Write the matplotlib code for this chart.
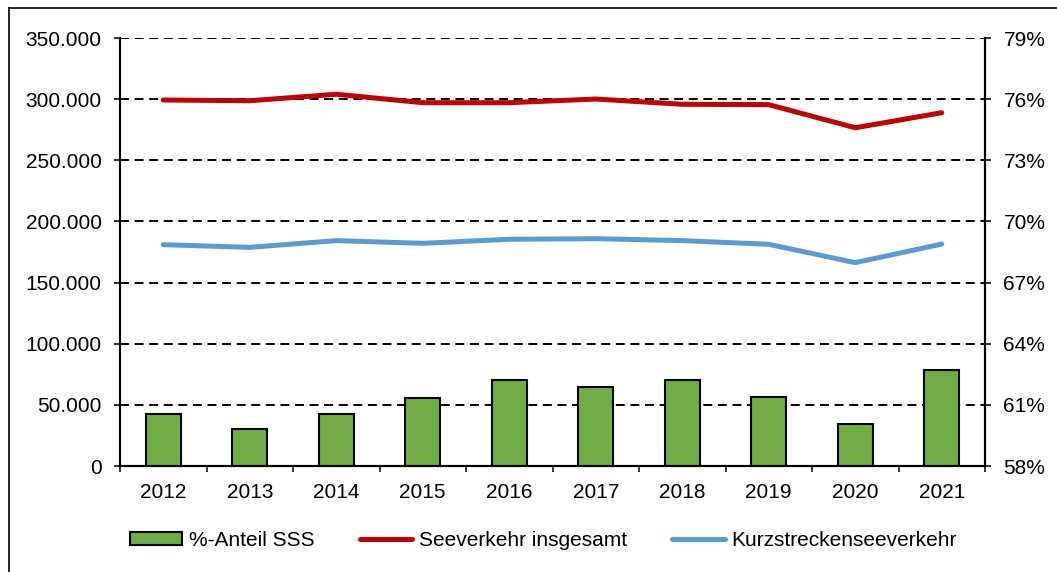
import matplotlib.pyplot as plt
from matplotlib.lines import Line2D
from matplotlib.patches import Patch
from matplotlib.ticker import FuncFormatter, FixedLocator
import numpy as np

plt.rcParams['font.family'] = ['Liberation Sans', 'DejaVu Sans']
plt.rcParams['font.size'] = 15

# data
years = ["2012", "2013", "2014", "2015", "2016", "2017", "2018", "2019", "2020", "2021"]
seeverkehr = [299300, 298700, 304000, 297100, 297100, 300100, 295800, 295500, 276600, 288900]
kurzstrecke = [181000, 178800, 184300, 182100, 185400, 185900, 184300, 181300, 166300, 181500]
anteil_sss = [60.55, 59.83, 60.55, 61.34, 62.2, 61.89, 62.2, 61.4, 60.06, 62.72]

red = "#C00000"
blue = "#5B9BD5"
green = "#70AD47"

fig = plt.figure(figsize=(10.57, 5.72), dpi=100)
ax = fig.add_axes([120 / 1057, 1 - 466 / 572, 865 / 1057, 428 / 572])
ax2 = ax.twinx()

x = np.arange(len(years))

# bars on the right (percent) axis, behind the lines
ax2.bar(x, anteil_sss, width=0.4, bottom=0, color=green, edgecolor="black", linewidth=1.5, zorder=2)
ax2.set_ylim(58, 79)
ax2.set_yticks(np.arange(58, 80, 3))
ax2.yaxis.set_major_formatter(FuncFormatter(lambda v, p: "%d%%" % round(v)))
ax2.set_axisbelow(True)
ax2.grid(axis="y", color="black", linewidth=1.4, linestyle=(0, (4.6, 2.9)), zorder=0)

ax.plot(x, seeverkehr, color=red, linewidth=3.6, solid_capstyle="round", solid_joinstyle="round")
ax.plot(x, kurzstrecke, color=blue, linewidth=3.6, solid_capstyle="round", solid_joinstyle="round")
ax.set_ylim(0, 350000)
ax.set_yticks(np.arange(0, 350001, 50000))
ax.yaxis.set_major_formatter(FuncFormatter(lambda v, p: "{:,.0f}".format(v).replace(",", ".")))
ax.set_zorder(ax2.get_zorder() + 1)
ax.patch.set_visible(False)

ax.set_xlim(-0.5, len(years) - 0.5)
ax.set_xticks(x)
ax.set_xticklabels(years)
ax.xaxis.set_minor_locator(FixedLocator(np.arange(-0.5, len(years), 1.0)))
ax.tick_params(axis="x", which="major", length=0, pad=12)
ax.tick_params(axis="x", which="minor", length=4.3, width=1.1)
ax.tick_params(axis="y", length=4.3, width=1.1, pad=9)
ax2.tick_params(axis="y", length=4.3, width=1.1, pad=9)

for a in (ax, ax2):
    a.spines["top"].set_visible(False)
    for s in ("left", "right", "bottom"):
        a.spines[s].set_linewidth(1.5)

handles = [
    Patch(facecolor=green, edgecolor="black", linewidth=1.5),
    Line2D([], [], color=red, linewidth=3.6, solid_capstyle="round"),
    Line2D([], [], color=blue, linewidth=3.6, solid_capstyle="round"),
]
labels = ["%-Anteil SSS", "Seeverkehr insgesamt", "Kurzstreckenseeverkehr"]
fig.legend(handles, labels, loc="center", bbox_to_anchor=(0.514, 1 - 540 / 572), ncol=3,
           frameon=False, handlelength=2.5, handleheight=0.6, handletextpad=0.3, columnspacing=2.2)

# outer chart border (top and left edges visible)
fig.add_artist(Line2D([9 / 1057, 9 / 1057], [0, 1 - 8 / 572], color="black", linewidth=1.2,
                      transform=fig.transFigure))
fig.add_artist(Line2D([9 / 1057, 1], [1 - 8 / 572, 1 - 8 / 572], color="black", linewidth=1.2,
                      transform=fig.transFigure))

fig.savefig("out.png", dpi=100)
